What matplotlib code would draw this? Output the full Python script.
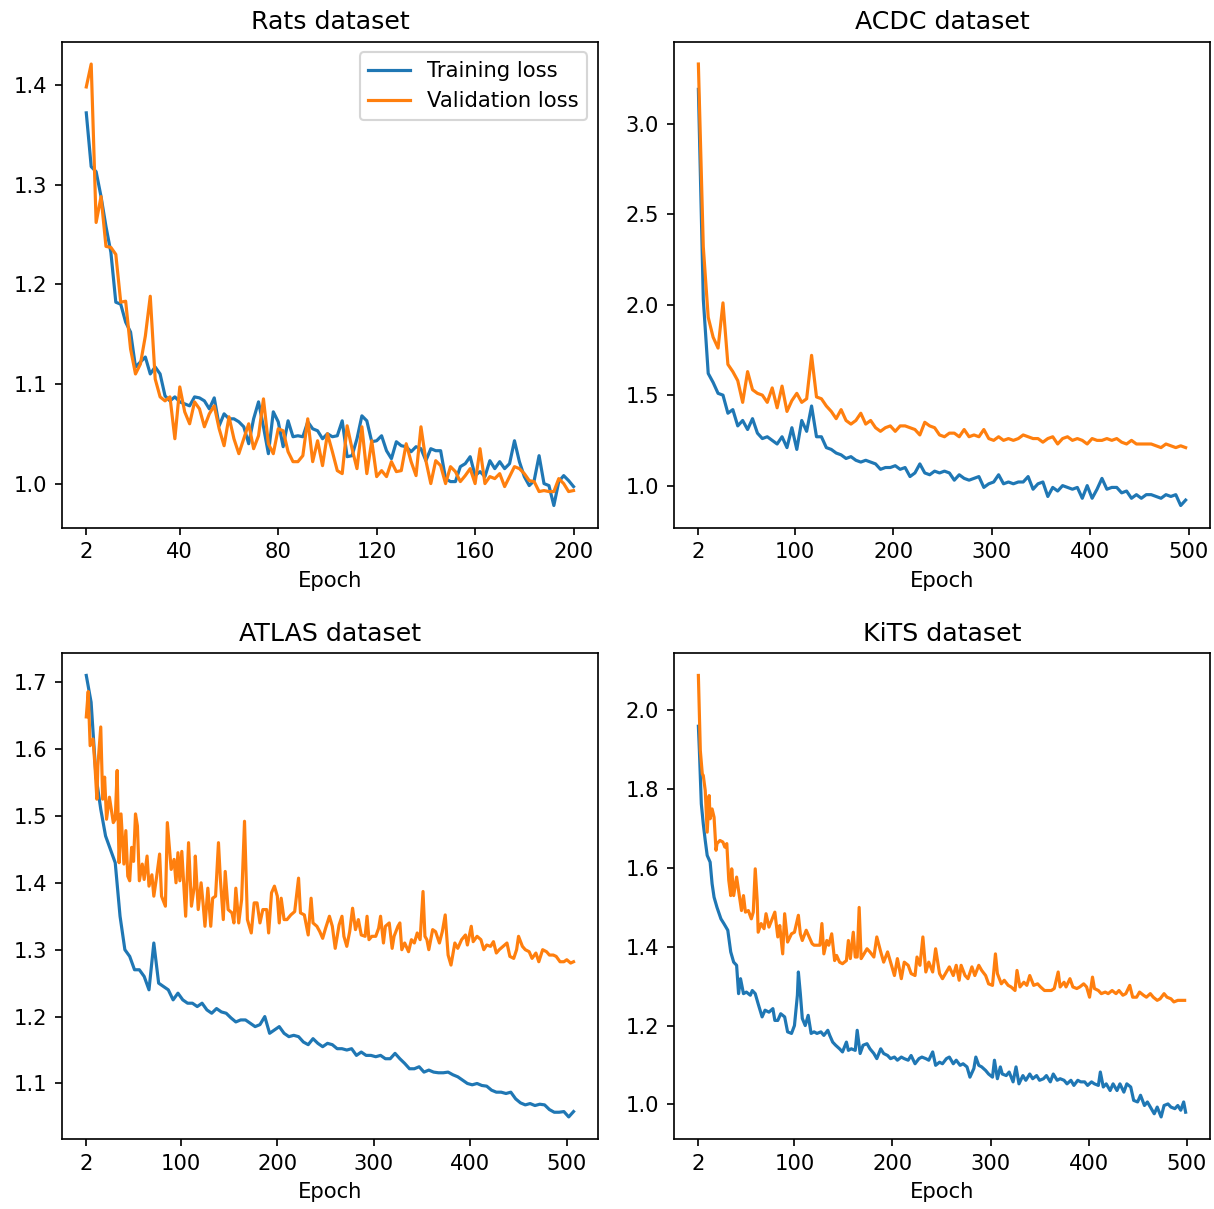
import numpy as np
import matplotlib.pyplot as plt

# ---------------- data ----------------
# Rats: one value every 2 epochs
rats_epochs = np.arange(2, 201, 2)
rats_train = [1.372, 1.318, 1.313, 1.288, 1.258, 1.232, 1.182, 1.180, 1.162, 1.152,
              1.117, 1.122, 1.127, 1.110, 1.117, 1.110, 1.088, 1.083, 1.087, 1.082,
              1.080, 1.078, 1.087, 1.086, 1.083, 1.075, 1.086, 1.058, 1.070, 1.065,
              1.065, 1.062, 1.057, 1.040, 1.065, 1.082, 1.057, 1.030, 1.072, 1.062,
              1.037, 1.063, 1.047, 1.048, 1.047, 1.062, 1.055, 1.053, 1.045, 1.050,
              1.047, 1.048, 1.063, 1.027, 1.028, 1.045, 1.068, 1.063, 1.042, 1.043,
              1.048, 1.033, 1.025, 1.042, 1.038, 1.037, 1.032, 1.037, 1.035, 1.023,
              1.035, 1.033, 1.033, 1.005, 1.002, 1.002, 1.017, 1.020, 1.027, 1.008,
              1.012, 1.007, 1.023, 1.015, 1.022, 1.015, 1.020, 1.043, 1.022, 1.007,
              0.998, 1.003, 1.028, 1.000, 0.998, 0.978, 1.002, 1.008, 1.003, 0.997]
rats_val = [1.398, 1.421, 1.262, 1.288, 1.238, 1.237, 1.230, 1.182, 1.183, 1.135,
            1.110, 1.120, 1.148, 1.188, 1.105, 1.087, 1.083, 1.087, 1.045, 1.097,
            1.072, 1.060, 1.082, 1.075, 1.057, 1.070, 1.078, 1.055, 1.038, 1.067,
            1.045, 1.030, 1.045, 1.060, 1.035, 1.048, 1.085, 1.040, 1.030, 1.055,
            1.053, 1.032, 1.022, 1.022, 1.028, 1.065, 1.022, 1.043, 1.018, 1.050,
            1.032, 1.013, 1.010, 1.058, 1.035, 1.015, 1.057, 1.010, 1.043, 1.007,
            1.013, 1.007, 1.022, 1.012, 1.013, 1.040, 1.022, 1.008, 1.057, 1.023,
            1.000, 1.023, 1.018, 1.000, 1.017, 1.012, 1.002, 1.008, 1.015, 1.000,
            1.035, 1.000, 1.007, 1.005, 1.010, 0.997, 1.007, 1.017, 1.015, 1.010,
            1.003, 1.002, 0.992, 0.993, 0.992, 0.992, 1.005, 1.000, 0.992, 0.993]

# ACDC: one value every 5 epochs
acdc_epochs = np.arange(2, 500, 5)
acdc_train = [3.19, 2.03, 1.62, 1.57, 1.51, 1.50, 1.40, 1.42, 1.33, 1.36,
              1.31, 1.37, 1.29, 1.26, 1.27, 1.25, 1.23, 1.27, 1.21, 1.32,
              1.20, 1.36, 1.30, 1.44, 1.27, 1.27, 1.21, 1.20, 1.18, 1.17,
              1.15, 1.16, 1.14, 1.13, 1.14, 1.13, 1.12, 1.09, 1.10, 1.10,
              1.11, 1.09, 1.10, 1.05, 1.07, 1.12, 1.07, 1.06, 1.08, 1.07,
              1.08, 1.07, 1.03, 1.06, 1.04, 1.03, 1.04, 1.05, 0.99, 1.01,
              1.02, 1.06, 1.01, 1.02, 1.01, 1.02, 1.02, 1.05, 0.98, 1.01,
              1.02, 0.94, 0.99, 0.97, 1.00, 0.99, 0.98, 0.99, 0.93, 1.00,
              0.93, 0.98, 1.04, 0.98, 0.99, 0.99, 0.96, 0.97, 0.93, 0.95,
              0.93, 0.95, 0.95, 0.94, 0.93, 0.95, 0.94, 0.95, 0.89, 0.92]
acdc_val = [3.33, 2.32, 1.93, 1.82, 1.76, 2.01, 1.67, 1.63, 1.58, 1.46,
            1.63, 1.53, 1.51, 1.50, 1.46, 1.54, 1.43, 1.55, 1.41, 1.47,
            1.51, 1.46, 1.48, 1.72, 1.49, 1.48, 1.44, 1.41, 1.37, 1.42,
            1.36, 1.34, 1.36, 1.40, 1.34, 1.36, 1.32, 1.30, 1.32, 1.33,
            1.30, 1.33, 1.33, 1.32, 1.31, 1.28, 1.35, 1.33, 1.32, 1.28,
            1.27, 1.29, 1.29, 1.27, 1.31, 1.27, 1.28, 1.27, 1.31, 1.26,
            1.25, 1.27, 1.25, 1.26, 1.25, 1.26, 1.28, 1.27, 1.26, 1.26,
            1.24, 1.26, 1.27, 1.23, 1.26, 1.27, 1.25, 1.26, 1.25, 1.23,
            1.26, 1.25, 1.25, 1.26, 1.25, 1.26, 1.24, 1.23, 1.25, 1.23,
            1.23, 1.23, 1.23, 1.22, 1.21, 1.23, 1.22, 1.21, 1.22, 1.21]

# ATLAS
atlas_epochs = np.arange(2, 508, 5)
atlas_train = [1.71, 1.67, 1.56, 1.51, 1.47, 1.45, 1.43, 1.35, 1.30, 1.29,
               1.27, 1.27, 1.26, 1.24, 1.31, 1.25, 1.245, 1.24, 1.225, 1.235,
               1.225, 1.22, 1.22, 1.215, 1.22, 1.21, 1.205, 1.212, 1.207, 1.205,
               1.198, 1.192, 1.195, 1.195, 1.19, 1.185, 1.188, 1.20, 1.175, 1.18,
               1.185, 1.175, 1.17, 1.172, 1.17, 1.162, 1.158, 1.167, 1.16, 1.155,
               1.16, 1.158, 1.152, 1.152, 1.15, 1.152, 1.142, 1.147, 1.142, 1.142,
               1.14, 1.142, 1.137, 1.137, 1.145, 1.137, 1.13, 1.122, 1.122, 1.125,
               1.117, 1.12, 1.117, 1.116, 1.116, 1.117, 1.113, 1.11, 1.105, 1.10,
               1.098, 1.10, 1.097, 1.096, 1.09, 1.087, 1.087, 1.085, 1.087, 1.077,
               1.071, 1.068, 1.07, 1.067, 1.069, 1.068, 1.061, 1.057, 1.057, 1.058,
               1.050, 1.058]
atlas_val_epochs = [2, 4, 6, 9, 11, 13, 14, 17, 19, 21,
                    23, 26, 30, 32, 34, 36, 38, 41, 43, 45,
                    47, 49, 51, 53, 55, 57, 60, 62, 65, 67,
                    70, 72, 75, 78, 80, 84, 86, 90, 93, 95,
                    97, 99, 101, 105, 108, 111, 114, 115, 118, 121,
                    123, 125, 128, 131, 133, 136, 139, 141, 144, 146,
                    149, 153, 155, 157, 160, 163, 166, 169, 173, 176,
                    179, 182, 185, 189, 191, 194, 197, 200, 202, 204,
                    207, 210, 214, 218, 222, 224, 228, 232, 235, 237,
                    241, 244, 247, 250, 254, 257, 260, 264, 267, 269,
                    272, 275, 278, 281, 284, 287, 291, 293, 295, 298,
                    302, 305, 307, 310, 312, 316, 319, 321, 325, 327,
                    329, 332, 336, 339, 342, 345, 348, 351, 353, 355,
                    357, 361, 364, 368, 371, 374, 377, 380, 384, 387,
                    391, 395, 397, 401, 403, 407, 411, 414, 417, 421,
                    424, 427, 430, 434, 438, 441, 445, 448, 450, 454,
                    457, 461, 464, 468, 471, 475, 479, 482, 486, 489,
                    493, 497, 500, 504, 507]
atlas_val = [1.648, 1.686, 1.605, 1.615, 1.575, 1.525, 1.575, 1.633, 1.525, 1.558,
             1.495, 1.528, 1.49, 1.495, 1.568, 1.43, 1.503, 1.428, 1.478, 1.41,
             1.403, 1.453, 1.432, 1.503, 1.485, 1.403, 1.428, 1.405, 1.44, 1.395,
             1.412, 1.38, 1.41, 1.443, 1.38, 1.365, 1.49, 1.42, 1.435, 1.40,
             1.445, 1.403, 1.447, 1.35, 1.46, 1.365, 1.395, 1.44, 1.36, 1.40,
             1.37, 1.335, 1.392, 1.335, 1.377, 1.38, 1.46, 1.405, 1.345, 1.417,
             1.36, 1.355, 1.34, 1.392, 1.34, 1.375, 1.492, 1.345, 1.325, 1.37,
             1.37, 1.34, 1.36, 1.36, 1.325, 1.385, 1.395, 1.38, 1.34, 1.377,
             1.345, 1.345, 1.352, 1.357, 1.407, 1.355, 1.352, 1.322, 1.377, 1.34,
             1.335, 1.327, 1.317, 1.332, 1.35, 1.335, 1.302, 1.337, 1.35, 1.32,
             1.305, 1.327, 1.362, 1.33, 1.345, 1.322, 1.32, 1.35, 1.315, 1.32,
             1.32, 1.332, 1.35, 1.31, 1.335, 1.34, 1.302, 1.32, 1.335, 1.34,
             1.30, 1.31, 1.297, 1.315, 1.31, 1.325, 1.315, 1.387, 1.32, 1.315,
             1.30, 1.33, 1.327, 1.31, 1.327, 1.352, 1.292, 1.277, 1.31, 1.302,
             1.315, 1.322, 1.307, 1.335, 1.312, 1.32, 1.315, 1.30, 1.307, 1.305,
             1.312, 1.295, 1.30, 1.305, 1.31, 1.29, 1.287, 1.30, 1.32, 1.305,
             1.30, 1.297, 1.287, 1.295, 1.282, 1.30, 1.297, 1.292, 1.292, 1.29,
             1.282, 1.282, 1.285, 1.28, 1.282]

# KiTS
kits_train_epochs = [2, 3, 5, 7, 9, 11, 14, 16, 18, 21,
                     25, 28, 32, 35, 38, 41, 43, 45, 48, 51,
                     55, 57, 60, 63, 67, 70, 74, 78, 80, 83,
                     86, 90, 93, 97, 100, 103, 104, 106, 108, 111,
                     114, 117, 120, 123, 127, 130, 134, 136, 139, 142,
                     146, 149, 153, 155, 158, 162, 164, 167, 170, 174,
                     177, 181, 184, 188, 191, 195, 198, 202, 205, 209,
                     212, 216, 219, 223, 227, 230, 234, 237, 241, 244,
                     248, 251, 255, 258, 262, 265, 269, 272, 276, 279,
                     283, 285, 288, 291, 295, 298, 302, 304, 307, 310,
                     312, 316, 319, 323, 326, 329, 333, 336, 340, 343,
                     347, 350, 354, 357, 361, 364, 368, 371, 375, 378,
                     382, 385, 389, 392, 396, 399, 403, 406, 410, 412,
                     415, 418, 422, 425, 429, 432, 436, 439, 443, 446,
                     450, 453, 457, 460, 464, 467, 470, 474, 477, 481,
                     484, 488, 491, 494, 497, 499]
kits_train = [1.96, 1.90, 1.763, 1.712, 1.67, 1.632, 1.615, 1.56, 1.526, 1.50,
              1.471, 1.459, 1.442, 1.387, 1.361, 1.353, 1.281, 1.319, 1.281, 1.285,
              1.277, 1.289, 1.281, 1.255, 1.222, 1.239, 1.234, 1.243, 1.213, 1.213,
              1.23, 1.222, 1.184, 1.18, 1.2, 1.277, 1.336, 1.281, 1.218, 1.20,
              1.226, 1.18, 1.184, 1.18, 1.184, 1.175, 1.188, 1.175, 1.158, 1.15,
              1.141, 1.133, 1.158, 1.137, 1.141, 1.137, 1.188, 1.129, 1.15, 1.154,
              1.141, 1.129, 1.116, 1.141, 1.129, 1.124, 1.116, 1.12, 1.112, 1.12,
              1.116, 1.112, 1.124, 1.103, 1.116, 1.12, 1.116, 1.112, 1.133, 1.099,
              1.107, 1.103, 1.116, 1.12, 1.103, 1.112, 1.099, 1.103, 1.095, 1.069,
              1.091, 1.12, 1.099, 1.095, 1.086, 1.077, 1.069, 1.112, 1.065, 1.095,
              1.077, 1.073, 1.082, 1.057, 1.095, 1.052, 1.073, 1.061, 1.077, 1.065,
              1.073, 1.061, 1.065, 1.073, 1.057, 1.077, 1.061, 1.065, 1.061, 1.052,
              1.061, 1.048, 1.061, 1.057, 1.057, 1.048, 1.057, 1.052, 1.048, 1.082,
              1.044, 1.052, 1.035, 1.052, 1.035, 1.052, 1.031, 1.052, 1.044, 1.01,
              1.006, 1.023, 0.997, 1.006, 0.989, 0.976, 0.993, 0.968, 0.997, 1.001,
              0.993, 0.989, 0.997, 0.985, 1.006, 0.98]
kits_val_epochs = [2, 4, 6, 7, 9, 11, 13, 14, 16, 18,
                   20, 21, 24, 27, 29, 31, 33, 35, 36, 38,
                   41, 43, 46, 48, 50, 53, 56, 58, 60, 62,
                   63, 66, 69, 71, 74, 78, 80, 83, 85, 88,
                   90, 93, 97, 100, 104, 106, 108, 112, 115, 118,
                   120, 123, 126, 128, 130, 133, 135, 138, 141, 143,
                   146, 149, 153, 155, 157, 160, 162, 164, 166, 168,
                   170, 174, 177, 181, 184, 188, 191, 195, 198, 202,
                   205, 209, 212, 216, 219, 223, 225, 228, 231, 234,
                   237, 241, 244, 248, 251, 255, 258, 262, 265, 268,
                   270, 274, 277, 281, 284, 288, 291, 295, 298, 302,
                   305, 307, 311, 314, 318, 321, 325, 327, 330, 334,
                   337, 340, 344, 348, 351, 355, 358, 362, 365, 369,
                   371, 375, 377, 381, 384, 388, 391, 395, 398, 401,
                   404, 406, 410, 413, 417, 420, 424, 428, 431, 435,
                   438, 442, 445, 449, 452, 456, 459, 463, 466, 470,
                   473, 477, 480, 484, 487, 491, 494, 498]
kits_val = [2.089, 1.898, 1.839, 1.835, 1.797, 1.691, 1.784, 1.725, 1.75, 1.729,
            1.645, 1.662, 1.67, 1.666, 1.653, 1.662, 1.569, 1.53, 1.598, 1.53,
            1.577, 1.543, 1.492, 1.53, 1.488, 1.492, 1.471, 1.488, 1.598, 1.518,
            1.437, 1.459, 1.446, 1.484, 1.45, 1.475, 1.488, 1.425, 1.454, 1.382,
            1.484, 1.412, 1.433, 1.437, 1.48, 1.433, 1.416, 1.442, 1.425, 1.408,
            1.404, 1.404, 1.404, 1.459, 1.382, 1.416, 1.404, 1.433, 1.365, 1.378,
            1.361, 1.357, 1.365, 1.416, 1.37, 1.437, 1.374, 1.374, 1.50, 1.37,
            1.378, 1.395, 1.387, 1.374, 1.425, 1.387, 1.361, 1.387, 1.361, 1.327,
            1.37, 1.319, 1.361, 1.353, 1.332, 1.327, 1.374, 1.353, 1.425, 1.336,
            1.361, 1.336, 1.395, 1.332, 1.319, 1.336, 1.349, 1.327, 1.353, 1.315,
            1.353, 1.327, 1.319, 1.349, 1.327, 1.353, 1.34, 1.327, 1.306, 1.302,
            1.382, 1.332, 1.306, 1.315, 1.302, 1.298, 1.289, 1.34, 1.298, 1.31,
            1.302, 1.327, 1.302, 1.306, 1.298, 1.289, 1.289, 1.289, 1.294, 1.336,
            1.298, 1.31, 1.298, 1.319, 1.298, 1.294, 1.298, 1.306, 1.298, 1.272,
            1.323, 1.294, 1.289, 1.281, 1.285, 1.281, 1.289, 1.281, 1.289, 1.277,
            1.281, 1.302, 1.272, 1.272, 1.285, 1.277, 1.272, 1.281, 1.272, 1.264,
            1.268, 1.281, 1.272, 1.268, 1.26, 1.264, 1.264, 1.264]

rats_ticks = [2, 40, 80, 120, 160, 200]
long_ticks = [2, 100, 200, 300, 400, 500]

# ---------------- plotting ----------------
DPI = 151.75
fig, axs = plt.subplots(2, 2, figsize=(1214 / DPI, 1209 / DPI), dpi=DPI)
plt.subplots_adjust(left=0.051, right=0.9967, top=0.9653, bottom=0.0579,
                    wspace=0.142, hspace=0.259)

panels = [
    (axs[0, 0], 'Rats dataset', rats_epochs, rats_train, rats_epochs, rats_val, rats_ticks),
    (axs[0, 1], 'ACDC dataset', acdc_epochs, acdc_train, acdc_epochs, acdc_val, long_ticks),
    (axs[1, 0], 'ATLAS dataset', atlas_epochs, atlas_train, atlas_val_epochs, atlas_val, long_ticks),
    (axs[1, 1], 'KiTS dataset', kits_train_epochs, kits_train, kits_val_epochs, kits_val, long_ticks),
]

for ax, title, ex_t, y_t, ex_v, y_v, ticks in panels:
    ax.plot(ex_t, y_t, label='Training loss')
    ax.plot(ex_v, y_v, label='Validation loss')
    ax.set_title(title)
    ax.set_xlabel('Epoch')
    ax.set_xticks(ticks)

axs[0, 0].legend(loc='upper right')

plt.savefig('out.png', dpi=DPI)
